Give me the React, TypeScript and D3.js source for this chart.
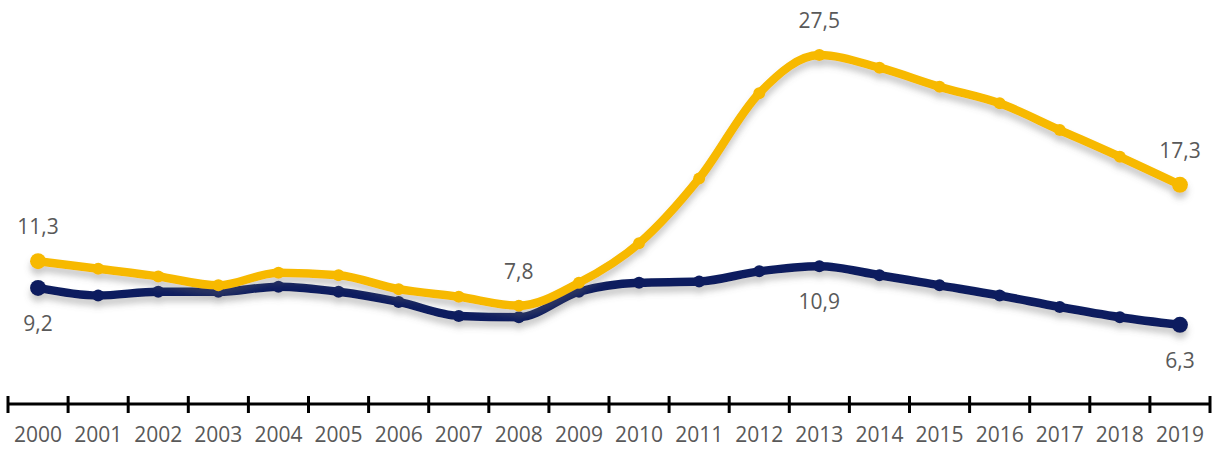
import * as d3 from 'd3';

const years = [
  '2000', '2001', '2002', '2003', '2004', '2005', '2006', '2007', '2008', '2009',
  '2010', '2011', '2012', '2013', '2014', '2015', '2016', '2017', '2018', '2019',
];

// yellow series
const seriesA = [
  11.3, 10.7, 10.1, 9.4, 10.4, 10.2, 9.1, 8.5, 7.8, 9.6,
  12.7, 17.8, 24.5, 27.5, 26.5, 25.0, 23.7, 21.6, 19.5, 17.3,
];
// navy series
const seriesB = [
  9.2, 8.6, 8.9, 8.9, 9.3, 8.9, 8.1, 7.0, 6.9, 8.9,
  9.6, 9.7, 10.5, 10.9, 10.2, 9.4, 8.6, 7.7, 6.9, 6.3,
];

const labelsA = ['2000', '2008', '2013', '2019'];
const labelsB = ['2000', '2013', '2019'];

const W = 1216;
const H = 450;
const YELLOW = '#F7B900';
const NAVY = '#0B1E5E';
const TEXT = '#595959';
const FONT = '"Open Sans", "DejaVu Sans", sans-serif';

const fmt = (v: number) => v.toFixed(1).replace('.', ',');

export default function App() {
  const x = d3.scaleBand<string>().domain(years).range([8, 1210]).padding(0);
  const y = d3.scaleLinear().domain([0, 27.5]).range([405, 55]);
  const cx = (d: string) => (x(d) as number) + x.bandwidth() / 2;

  const line = d3
    .line<number>()
    .x((_d, i) => cx(years[i]))
    .y((d) => y(d))
    .curve(d3.curveMonotoneX);

  const axisY = y(0) - 1;
  const tickXs = [...years.map((d) => x(d) as number), x.range()[1]];

  const series = [
    { values: seriesA, color: YELLOW, labels: labelsA, dy: -35 },
    { values: seriesB, color: NAVY, labels: labelsB, dy: 35 },
  ];

  return (
    <svg
      width={W}
      height={H}
      style={{ position: 'absolute', left: 0, top: 0, background: '#fff' }}
    >
      <defs>
        <filter id="shadow" x="-5%" y="-20%" width="110%" height="160%">
          <feDropShadow dx="0" dy="6" stdDeviation="3" floodColor="#666" floodOpacity="0.35" />
        </filter>
      </defs>

      {/* navy drawn first, yellow on top */}
      {[series[1], series[0]].map((s, si) => (
        <g key={si} filter="url(#shadow)">
          <path
            d={line(s.values) || ''}
            fill="none"
            stroke={s.color}
            strokeWidth={8.5}
            strokeLinejoin="round"
            strokeLinecap="round"
          />
          {s.values.map((v, i) => (
            <circle
              key={i}
              cx={cx(years[i])}
              cy={y(v)}
              r={i === 0 || i === years.length - 1 ? 8 : 6}
              fill={s.color}
            />
          ))}
        </g>
      ))}

      {series.map((s, si) => (
        <g key={'l' + si}>
          {s.labels.map((yr) => {
            const i = years.indexOf(yr);
            return (
              <text
                key={yr}
                x={cx(yr)}
                y={y(s.values[i]) + s.dy}
                textAnchor="middle"
                dominantBaseline="central"
                fontFamily={FONT}
                fontSize={21}
                fill={TEXT}
              >
                {fmt(s.values[i])}
              </text>
            );
          })}
        </g>
      ))}

      <g>
        <line x1={x.range()[0]} x2={x.range()[1]} y1={axisY} y2={axisY} stroke="#000" strokeWidth={3} />
        {tickXs.map((tx, i) => (
          <line key={i} x1={tx} x2={tx} y1={axisY - 8} y2={axisY + 9} stroke="#000" strokeWidth={3} />
        ))}
        {years.map((d) => (
          <text
            key={d}
            x={cx(d)}
            y={434}
            textAnchor="middle"
            dominantBaseline="central"
            fontFamily={FONT}
            fontSize={21}
            fill={TEXT}
          >
            {d}
          </text>
        ))}
      </g>
    </svg>
  );
}
